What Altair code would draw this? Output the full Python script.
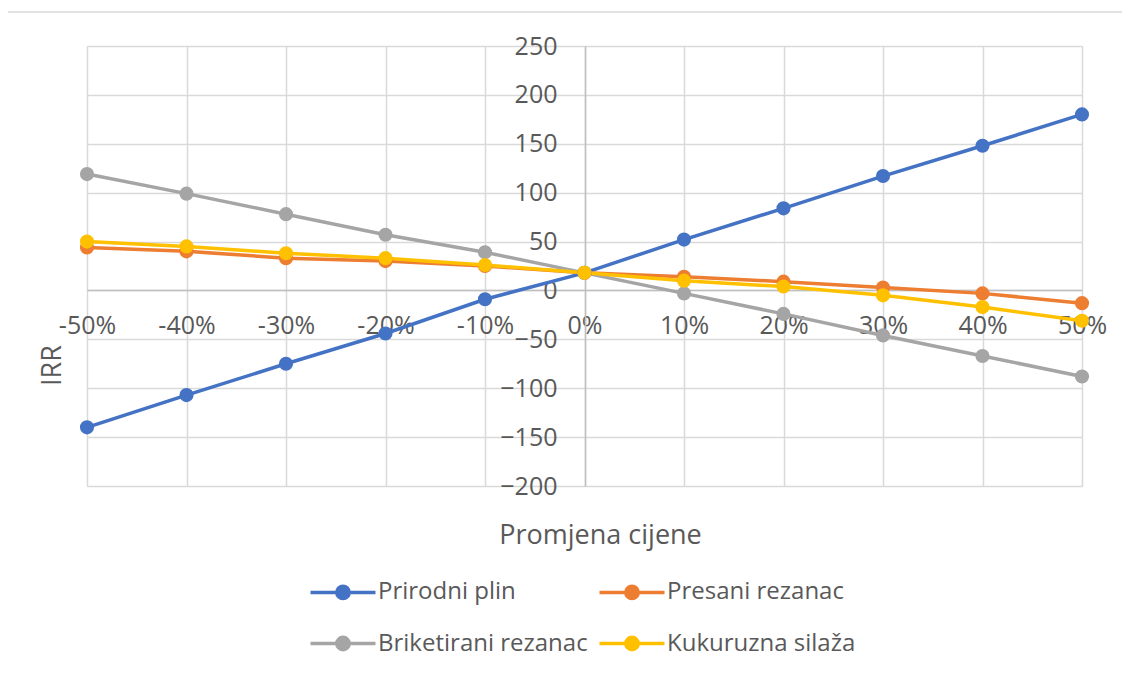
import altair as alt
import pandas as pd

x_labels = ["-50%", "-40%", "-30%", "-20%", "-10%", "0%", "10%", "20%", "30%", "40%", "50%"]
series_names = ["Prirodni plin", "Presani rezanac", "Briketirani rezanac", "Kukuruzna silaža"]
series_colors = ["#4472C4", "#ED7D31", "#A5A5A5", "#FFC000"]

prirodni_plin = [-140, -107, -75, -44, -9, 18, 52, 84, 117, 148, 180]
presani_rezanac = [44, 40, 33, 30, 25, 18, 14, 9, 3, -3, -13]
briketirani_rezanac = [119, 99, 78, 57, 39, 18, -3, -24, -46, -67, -88]
kukuruzna_silaza = [50, 45, 38, 33, 26, 18, 10, 4, -5, -17, -31]

y_ticks = [-200, -150, -100, -50, 0, 50, 100, 150, 200, 250]

rows = []
for name, vals in zip(series_names, [prirodni_plin, presani_rezanac, briketirani_rezanac, kukuruzna_silaza]):
    for lab, v in zip(x_labels, vals):
        rows.append({"Promjena": lab, "IRR": v, "Serija": name, "ord": series_names.index(name)})
df = pd.DataFrame(rows)

FONT = "Open Sans"
TXT = "#595959"
W, H = 995, 440
TICK_FS = 25
TITLE_FS = 27
LEG_FS = 24


def ring(r):
    return f"M{-r},0a{r},{r} 0 1,0 {2*r},0a{r},{r} 0 1,0 {-2*r},0"


legend_symbol = "M-2,0H2" + "".join(ring(r) for r in [0.38, 0.3, 0.22, 0.14, 0.06])

color = alt.Color(
    "Serija:N",
    scale=alt.Scale(domain=series_names, range=series_colors),
    legend=alt.Legend(
        title=None,
        orient="none",
        legendX=238,
        legendY=528,
        columns=2,
        direction="horizontal",
        columnPadding=4,
        rowPadding=19.5,
        labelFont=FONT,
        labelFontSize=LEG_FS,
        labelColor=TXT,
        labelOffset=17,
        labelLimit=400,
        symbolType=legend_symbol,
        symbolSize=1056,
        symbolStrokeWidth=3.5,
    ),
)

x_enc = alt.X(
    "Promjena:N",
    sort=x_labels,
    scale=alt.Scale(type="point", padding=0),
    axis=alt.Axis(
        title="Promjena cijene",
        titleFont=FONT,
        titleFontSize=TITLE_FS,
        titleFontWeight="normal",
        titleColor=TXT,
        titleX=513,
        titleY=245,
        titleBaseline="middle",
        offset=-196,
        labelAngle=0,
        labelFont=FONT,
        labelFontSize=TICK_FS,
        labelColor=TXT,
        labelPadding=23,
        ticks=False,
        domainColor="#BFBFBF",
        domainWidth=1.5,
        grid=True,
        gridColor="#D9D9D9",
        gridWidth=1.5,
    ),
)

y_enc = alt.Y(
    "IRR:Q",
    scale=alt.Scale(domain=[-200, 250], nice=False, zero=False),
    axis=alt.Axis(
        title="IRR",
        titleFont=FONT,
        titleFontSize=TITLE_FS,
        titleFontWeight="normal",
        titleColor=TXT,
        titleX=-533,
        titleY=319,
        titleBaseline="middle",
        titleAngle=270,
        offset=-498,
        values=y_ticks,
        labelFont=FONT,
        labelFontSize=TICK_FS,
        labelColor=TXT,
        labelPadding=28,
        ticks=False,
        domainColor="#BFBFBF",
        domainWidth=1.5,
        grid=True,
        gridColor="#D9D9D9",
        gridWidth=1.5,
    ),
)

lines = alt.Chart(df).mark_line(strokeWidth=3.5).encode(
    x=x_enc, y=y_enc, color=color, detail="Serija:N", order="ord:Q"
)
points = alt.Chart(df).mark_point(filled=True, size=200, opacity=1).encode(
    x=alt.X("Promjena:N", sort=x_labels),
    y="IRR:Q",
    color=alt.Color("Serija:N", legend=None),
    order="ord:Q",
)
top_border = alt.Chart(pd.DataFrame({"a": [0]})).mark_rule(color="#D9D9D9", strokeWidth=1.5, clip=False).encode(
    x=alt.value(-87), x2=alt.value(1044), y=alt.value(-34)
)

chart = alt.layer(top_border, lines, points).properties(
    width=W,
    height=H,
    padding={"left": 79, "top": 38, "right": 40, "bottom": 190},
    autosize=alt.AutoSizeParams(type="none"),
).configure_view(stroke=None).configure(background="white")

chart.save("out.html", embed_options={"renderer": "svg", "actions": False})
